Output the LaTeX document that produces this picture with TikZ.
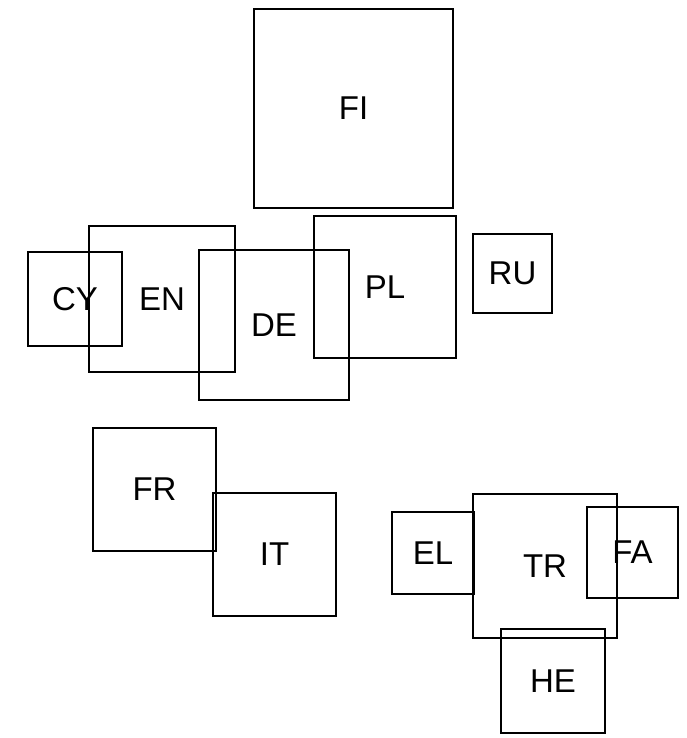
\documentclass[tikz,border=0pt]{standalone}
\usepackage{fontspec}
\setmainfont{Liberation Sans}
\usepackage{tikz}
\usetikzlibrary{positioning}

\begin{document}
\begin{tikzpicture}[x=1pt,y=-1pt,
	langbox/.style={
	draw=black,           % black border
	line width=2.5pt,     % border thickness
	fill=none,            % boxes are see-through
	text=black,           % black text
	rectangle,            % shape
	inner sep=0pt,        % padding
	font=\fontsize{33}{38}\selectfont
	}]
	\useasboundingbox (0,0) rectangle (687,738);
	% name / centre x / centre y / side
	\foreach \lang/\cx/\cy/\side in {
		FI/353.5/108.5/199,
		CY/75/299/94,
		EN/162/299/146,
		DE/274/325/150,
		PL/385/287/142,
		RU/512.5/273.5/79,
		FR/154.5/489.5/123,
		IT/274.5/554.5/123,
		EL/433/553/82,
		TR/545/566/144,
		FA/632.5/552.5/91,
		HE/553/681/104}
	\node[langbox, minimum width=\side pt, minimum height=\side pt] (\lang) at (\cx,\cy) {\lang};
\end{tikzpicture}
\end{document}
